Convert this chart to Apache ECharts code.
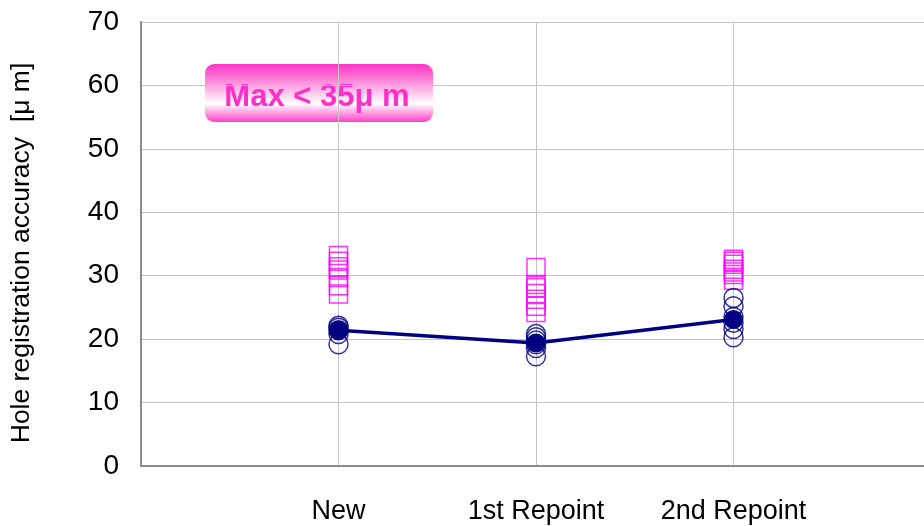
<!DOCTYPE html>
<html>
<head>
<meta charset="utf-8">
<script src="https://cdn.jsdelivr.net/npm/echarts@6/dist/echarts.min.js"></script>
<style>
  html, body { margin: 0; padding: 0; background: #fff; }
  #main { width: 924px; height: 526px; }
</style>
</head>
<body>
<div id="main"></div>
<script>
// categories sit at x = 1, 2, 3 on a 0..4 axis
var categories = ['New', '1st Repoint', '2nd Repoint'];
var yTicks = [0, 10, 20, 30, 40, 50, 60, 70];

// magenta squares (individual maximum values)
var squaresNew = [33.2, 32.3, 31.4, 30.9, 29.7, 28.4, 27.1];
var squaresRep1 = [31.3, 28.6, 28.1, 27.2, 26.3, 25.2, 24.2];
var squaresRep2 = [32.6, 32.3, 31.8, 31.0, 30.6, 30.2, 29.3];

// navy open circles (individual values)
var circlesNew = [22.1, 21.8, 21.4, 20.8, 19.2];
var circlesRep1 = [20.8, 20.3, 19.8, 19.2, 18.6, 17.3];
var circlesRep2 = [26.5, 25.2, 23.5, 22.6, 21.6, 20.3];

// averages (line with filled dots)
var means = [21.4, 19.4, 23.1];

function toPoints(groups) {
    var pts = [];
    groups.forEach(function (g, i) {
        g.forEach(function (v) { pts.push([i + 1, v]); });
    });
    return pts;
}

var myChart = echarts.init(document.getElementById('main'));
var option = {
    animation: false,
    grid: { left: 141, top: 22, bottom: 60, right: -7, containLabel: false, outerBoundsMode: 'none' },
    xAxis: {
        type: 'value',
        min: 0,
        max: 4,
        interval: 1,
        axisLine: { show: true, lineStyle: { color: '#8c8c8c', width: 2 } },
        axisTick: { show: false },
        axisLabel: {
            margin: 32,
            fontSize: 27,
            color: '#000',
            fontFamily: 'Liberation Sans, Arial, sans-serif',
            formatter: function (v) { return categories[v - 1] || ''; }
        },
        splitLine: { show: true, lineStyle: { color: '#c4c4c4', width: 1 } }
    },
    yAxis: {
        type: 'value',
        min: yTicks[0],
        max: yTicks[yTicks.length - 1],
        interval: 10,
        name: 'Hole registration accuracy  [μ m]',
        nameLocation: 'middle',
        nameGap: 106,
        nameTextStyle: {
            padding: [0, 18, 0, 0],
            fontSize: 26.5,
            color: '#000',
            fontFamily: 'Liberation Sans, Arial, sans-serif'
        },
        axisLine: { show: true, lineStyle: { color: '#8c8c8c', width: 2 } },
        axisTick: { show: false },
        axisLabel: {
            margin: 22,
            fontSize: 28,
            color: '#000',
            fontFamily: 'Liberation Sans, Arial, sans-serif'
        },
        splitLine: { show: true, lineStyle: { color: '#c4c4c4', width: 1 } }
    },
    graphic: [{
        type: 'group',
        left: 205,
        top: 64,
        children: [{
            type: 'rect',
            shape: { x: 0, y: 0, width: 228, height: 58, r: 9 },
            style: {
                fill: new echarts.graphic.LinearGradient(0, 0, 0, 1, [
                    { offset: 0, color: '#ff33c6' },
                    { offset: 0.3, color: '#ff8ad9' },
                    { offset: 0.68, color: '#ffffff' },
                    { offset: 1, color: '#ff40c8' }
                ])
            }
        }, {
            type: 'text',
            x: 112,
            y: 33,
            style: {
                text: 'Max < 35μ m',
                fill: '#ff2ec8',
                font: 'bold 31px "Liberation Sans", Arial, sans-serif',
                align: 'center',
                verticalAlign: 'middle'
            }
        }]
    }],
    series: [{
        name: 'max',
        type: 'scatter',
        symbol: 'rect',
        symbolSize: 18,
        itemStyle: { color: 'rgba(0,0,0,0)', borderColor: '#ff00ff', borderWidth: 1.5 },
        data: toPoints([squaresNew, squaresRep1, squaresRep2]),
        z: 2
    }, {
        name: 'values',
        type: 'scatter',
        symbol: 'circle',
        symbolSize: 19,
        itemStyle: { color: 'rgba(0,0,0,0)', borderColor: '#000080', borderWidth: 1.5 },
        data: toPoints([circlesNew, circlesRep1, circlesRep2]),
        z: 3
    }, {
        name: 'average',
        type: 'line',
        symbol: 'circle',
        symbolSize: 19,
        itemStyle: { color: '#000080' },
        lineStyle: { color: '#000080', width: 3.5 },
        data: means.map(function (v, i) { return [i + 1, v]; }),
        z: 4
    }]
};
myChart.setOption(option);
</script>
</body>
</html>
